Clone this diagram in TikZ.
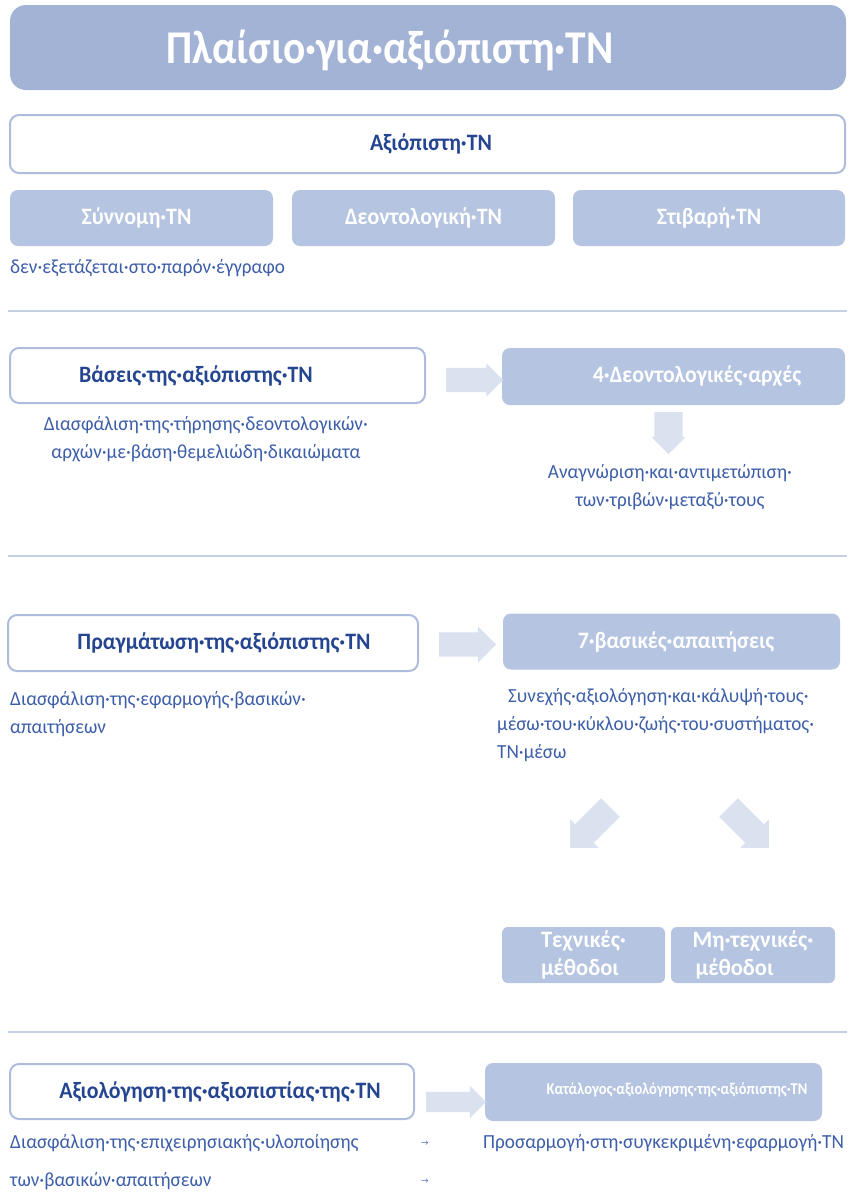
\documentclass[tikz,border=0pt]{standalone}
\usepackage{fontspec}
\setmainfont{Carlito}
\newfontfamily\narrowfont[FakeStretch=0.88]{Carlito}
\newfontfamily\semifont[FakeStretch=0.93]{Carlito}
\newfontfamily\bodyfont[FakeStretch=0.96]{Carlito}
\usetikzlibrary{shapes.arrows}
\definecolor{titlefill}{HTML}{A2B3D5}
\definecolor{boxfill}{HTML}{B5C4E0}
\definecolor{arrowfill}{HTML}{DAE1EF}
\definecolor{boxline}{HTML}{ADBCDD}
\definecolor{headblue}{HTML}{254591}
\definecolor{bodyblue}{HTML}{3D5EA8}
\definecolor{rulecol}{HTML}{C6D0E5}
\tikzset{
  whitebox/.style={draw=boxline, line width=2pt, fill=white, rounded corners=9pt,
    inner sep=0pt, text=headblue, font=\semifont\bfseries\fontsize{23.5}{26}\selectfont},
  filledbox/.style={draw=none, fill=boxfill, rounded corners=8pt, inner sep=0pt,
    text=white, font=\semifont\bfseries\fontsize{23.5}{26}\selectfont},
  bodytext/.style={text=bodyblue, inner sep=0pt, font=\bodyfont\fontsize{20}{28}\selectfont},
  blockarrow/.style={single arrow, fill=arrowfill, draw=none, inner xsep=0pt,
    single arrow head indent=0pt},
  rulerline/.style={draw=rulecol, line width=2.5pt}
}
\begin{document}
\begin{tikzpicture}[x=1pt, y=-1pt]
\useasboundingbox (0,0) rectangle (847,1192);
\clip (0,0) rectangle (847,1192);

% heading banner
\node[fill=titlefill, rounded corners=16pt, minimum width=836pt, minimum height=85pt, inner sep=0pt] (banner) at (428,47.5) {};
\node[text=white, font=\narrowfont\bfseries\fontsize{47}{50}\selectfont, inner sep=0pt] (bannertext) at (390,50) {Πλαίσιο·για·αξιόπιστη·ΤΝ};

% trustworthy AI and its three components
\node[whitebox, minimum width=835pt, minimum height=58pt] (trust) at (427.5,144) {\hspace*{7pt}Αξιόπιστη·ΤΝ};
\node[filledbox, minimum width=263pt, minimum height=56pt] (lawful) at (141.5,218) {\hspace*{-10pt}Σύννομη·ΤΝ};
\node[filledbox, minimum width=263pt, minimum height=56pt] (ethical) at (423.5,218) {Δεοντολογική·ΤΝ};
\node[filledbox, minimum width=272pt, minimum height=56pt] (robust) at (709,218) {Στιβαρή·ΤΝ};
\node[bodytext, anchor=west] (notexamined) at (10,268) {δεν·εξετάζεται·στο·παρόν·έγγραφο};

\coordinate (r1a) at (8,311); \coordinate (r1b) at (847,311);
\draw[rulerline] (r1a) -- (r1b);

% foundations
\node[whitebox, minimum width=415pt, minimum height=55pt] (found) at (217.5,375.5) {\hspace*{-43pt}Βάσεις·της·αξιόπιστης·ΤΝ};
\node[filledbox, minimum width=343pt, minimum height=57pt] (principles) at (673.5,376.5) {\hspace*{47pt}4·Δεοντολογικές·αρχές};
\node[blockarrow, inner ysep=12pt, single arrow head extend=4.5pt, minimum height=57pt] (arr1) at (468.5,380) {};
\node[bodytext, align=center] (foundtext) at (206,439) {Διασφάλιση·της·τήρησης·δεοντολογικών·\\αρχών·με·βάση·θεμελιώδη·δικαιώματα};
\node[blockarrow, inner ysep=14pt, single arrow head extend=3pt, minimum height=42pt, rotate=-90] (arr2) at (668.5,426) {};
\node[bodytext, align=center] (tensions) at (670,487.5) {Αναγνώριση·και·αντιμετώπιση·\\των·τριβών·μεταξύ·τους};

\coordinate (r2a) at (8,556); \coordinate (r2b) at (847,556);
\draw[rulerline] (r2a) -- (r2b);

% realisation
\node[whitebox, minimum width=410pt, minimum height=56pt] (realise) at (213,643) {\hspace*{22pt}Πραγμάτωση·της·αξιόπιστης·ΤΝ};
\node[filledbox, minimum width=337pt, minimum height=56pt] (requirements) at (671.5,641.5) {\hspace*{9pt}7·βασικές·απαιτήσεις};
\node[blockarrow, inner ysep=12pt, single arrow head extend=6pt, minimum height=57pt] (arr3) at (461.5,644.5) {};
\node[bodytext, align=left, anchor=west] (realisetext) at (10,714.5) {Διασφάλιση·της·εφαρμογής·βασικών·\\απαιτήσεων};
\node[bodytext, align=left, anchor=west] (lifecycle) at (497,725) {\hspace*{11pt}Συνεχής·αξιολόγηση·και·κάλυψή·τους·\\μέσω·του·κύκλου·ζωής·του·συστήματος·\\ΤΝ·μέσω};
\node[blockarrow, inner ysep=13pt, single arrow head extend=7pt, minimum height=57pt, rotate=225] (arr4) at (595,823) {};
\node[blockarrow, inner ysep=13pt, single arrow head extend=7pt, minimum height=57pt, rotate=-45] (arr5) at (744,823) {};
\node[filledbox, rounded corners=6pt, minimum width=163pt, minimum height=56pt, align=left, font=\bodyfont\bfseries\fontsize{23.5}{28}\selectfont] (technical) at (583.5,955) {Τεχνικές·\\μέθοδοι};
\node[filledbox, rounded corners=6pt, minimum width=164pt, minimum height=56pt, align=left, font=\bodyfont\bfseries\fontsize{23.5}{28}\selectfont] (nontechnical) at (753,955) {Μη·τεχνικές·\\\hspace*{3pt}μέθοδοι};

\coordinate (r3a) at (8,1032); \coordinate (r3b) at (847,1032);
\draw[rulerline] (r3a) -- (r3b);

% assessment
\node[whitebox, minimum width=404pt, minimum height=55pt] (assess) at (212,1091.5) {\hspace*{16pt}Αξιολόγηση·της·αξιοπιστίας·της·ΤΝ};
\node[filledbox, minimum width=337pt, minimum height=58pt, font=\narrowfont\bfseries\fontsize{16.5}{18}\selectfont] (checklist) at (653.5,1092) {\raisebox{7pt}{\hspace*{47pt}Κατάλογος·αξιολόγησης·της·αξιόπιστης·ΤΝ}};
\node[blockarrow, inner ysep=10pt, single arrow head extend=6pt, minimum height=60pt] (arr6) at (451,1102) {};
\node[bodytext, anchor=west] (optext1) at (10,1143) {Διασφάλιση·της·επιχειρησιακής·υλοποίησης};
\node[bodytext, anchor=west] (optext2) at (10,1181) {των·βασικών·απαιτήσεων};
\node[text=bodyblue, inner sep=0pt, font=\fontsize{8}{8}\selectfont] (tab1) at (425,1143) {→};
\node[text=bodyblue, inner sep=0pt, font=\fontsize{8}{8}\selectfont] (tab2) at (425,1181) {→};
\node[bodytext, anchor=west] (adapt) at (483,1143) {Προσαρμογή·στη·συγκεκριμένη·εφαρμογή·ΤΝ};
\end{tikzpicture}
\end{document}
